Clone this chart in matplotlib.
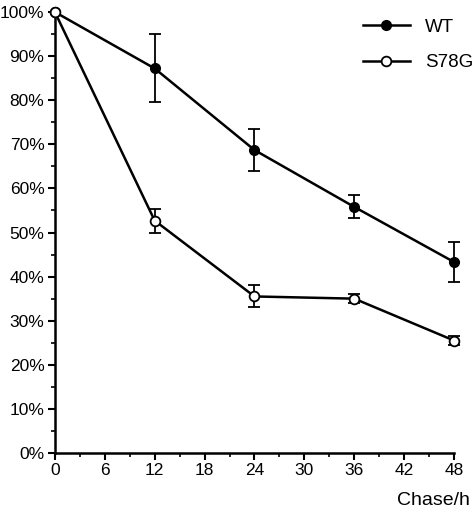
import matplotlib
matplotlib.use("Agg")
import matplotlib.pyplot as plt
from matplotlib.ticker import MultipleLocator, FuncFormatter
from matplotlib.lines import Line2D

plt.rcParams['font.family'] = ['Liberation Sans', 'DejaVu Sans']

hours = [0, 12, 24, 36, 48]
wt = [100, 87.2, 68.7, 55.8, 43.3]
wt_err = [0, 7.7, 4.7, 2.6, 4.5]
s78g = [100, 52.7, 35.5, 35.0, 25.5]
s78g_err = [0, 2.7, 2.5, 1.0, 1.0]

fig = plt.figure(figsize=(4.73, 5.11), dpi=100)
ax = fig.add_axes([0.116, 0.1135, 0.844, 0.863])

ax.errorbar(hours, wt, yerr=wt_err, color='black', marker='o', markersize=7,
            markerfacecolor='black', lw=1.8, elinewidth=1.3, capsize=4, capthick=1.3,
            clip_on=False, zorder=3)
ax.errorbar(hours, s78g, yerr=s78g_err, color='black', marker='o', markersize=7,
            markerfacecolor='white', markeredgewidth=1.3, lw=1.8, elinewidth=1.3,
            capsize=4, capthick=1.3, clip_on=False, zorder=3)

ax.set_xlim(0, 48)
ax.set_ylim(0, 100)
ax.xaxis.set_major_locator(MultipleLocator(6))
ax.xaxis.set_minor_locator(MultipleLocator(3))
ax.yaxis.set_major_locator(MultipleLocator(10))
ax.yaxis.set_minor_locator(MultipleLocator(5))
ax.yaxis.set_major_formatter(FuncFormatter(lambda v, p: f"{int(v)}%"))
for s in ['top', 'right']:
    ax.spines[s].set_visible(False)
for s in ['left', 'bottom']:
    ax.spines[s].set_linewidth(1.8)
ax.tick_params(which='major', length=5, width=1.5, labelsize=12.5, direction='out', pad=2.5)
ax.tick_params(which='minor', length=3, width=1.2, direction='out')

ax.text(1.04, -0.107, 'Chase/h', transform=ax.transAxes, ha='right', va='center', fontsize=14)

handles = [
    Line2D([], [], color='black', lw=1.8, marker='o', markersize=7, markerfacecolor='black'),
    Line2D([], [], color='black', lw=1.8, marker='o', markersize=7, markerfacecolor='white',
           markeredgewidth=1.3),
]
leg = ax.legend(handles, ['WT', 'S78G'], loc='upper left', bbox_to_anchor=(0.772, 0.985),
                frameon=False, fontsize=13.5, handlelength=2.5, labelspacing=0.98,
                handletextpad=0.8, borderaxespad=0, borderpad=0)

fig.savefig('out.png', dpi=100)
